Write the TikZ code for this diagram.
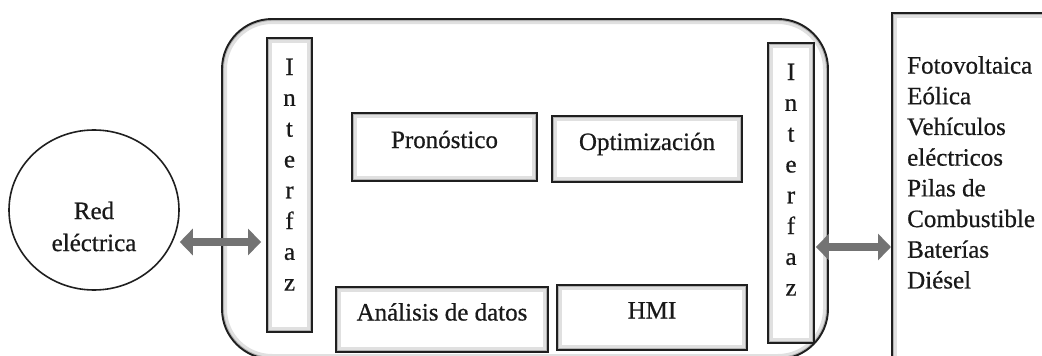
\documentclass[tikz,border=0pt]{standalone}
\usepackage{fontspec}
\setmainfont{Liberation Serif}[FakeBold=0.6]
\usetikzlibrary{arrows.meta,shapes.geometric}
\begin{document}
\begin{tikzpicture}[x=1pt,y=-1pt,
  every node/.style={font=\fontsize{25}{31}\selectfont, inner sep=0pt, text=black!90},
  inshadow/.style={path picture={
      \draw[black!12, line width=10pt] (path picture bounding box.north west) rectangle (path picture bounding box.south east);
      \draw[black!30, line width=4pt] (path picture bounding box.north west) rectangle (path picture bounding box.south east);}},
  frame/.style={draw=black!88, line width=1.9pt, inshadow},
  module/.style={frame, text height=12pt, text depth=10pt},
  column/.style={align=center, font=\fontsize{25}{30.8}\selectfont},
  bigarrow/.style={draw=black!55, line width=8pt,
      {Triangle[width=26pt,length=13pt]}-{Triangle[width=26pt,length=13pt]}}
]
\clip (0,0) rectangle (1042,356);
\fill[white] (0,0) rectangle (1042,356);

% grid side
\node[draw=black!88, line width=1.6pt, ellipse, minimum width=170pt, minimum height=160pt] (red) at (94,210) {};
\node[align=center, anchor=north, font=\fontsize{25}{32}\selectfont] (redtxt) at (94,201.5) {Red\\eléctrica};

% energy management system container
\node[frame, rounded corners=50pt, minimum width=606pt, minimum height=340pt] (ems) at (525,189) {};

% interfaces
\node[frame, minimum width=45pt, minimum height=294pt] (ifL) at (289.5,185) {};
\node[column, anchor=north] (ifLtxt) at (289.5,58.5) {I\\n\\t\\e\\r\\f\\a\\z};
\node[frame, minimum width=46pt, minimum height=300pt] (ifR) at (791,193) {};
\node[column, anchor=north] (ifRtxt) at (791,63.5) {I\\n\\t\\e\\r\\f\\a\\z};

% modules
\node[module, minimum width=185pt, minimum height=68pt] (prono) at (444.5,147) {Pronóstico};
\node[module, minimum width=190pt, minimum height=66pt] (optim) at (647,149) {Optimización};
\node[module, minimum width=212pt, minimum height=65pt] (datos) at (442,319.5) {Análisis de datos};
\node[module, minimum width=190pt, minimum height=65pt] (hmi) at (652,317.5) {HMI};

% distributed resources
\node[frame, anchor=north west, minimum width=260pt, minimum height=420pt] (src) at (891,12) {};
\node[align=left, anchor=north west, font=\fontsize{25}{30.7}\selectfont] (srctxt) at (907,56)
  {Fotovoltaica\\Eólica\\Vehículos\\eléctricos\\Pilas de\\Combustible\\Baterías\\Diésel};

% power/data exchange
\coordinate (rowL) at (0,242);
\coordinate (rowR) at (0,247);
\draw[bigarrow, shorten >=5pt] (red.east |- rowL) -- (ifL.west |- rowL);
\draw[bigarrow, shorten <=1pt] (ifR.east |- rowR) -- (src.west |- rowR);
\end{tikzpicture}
\end{document}
